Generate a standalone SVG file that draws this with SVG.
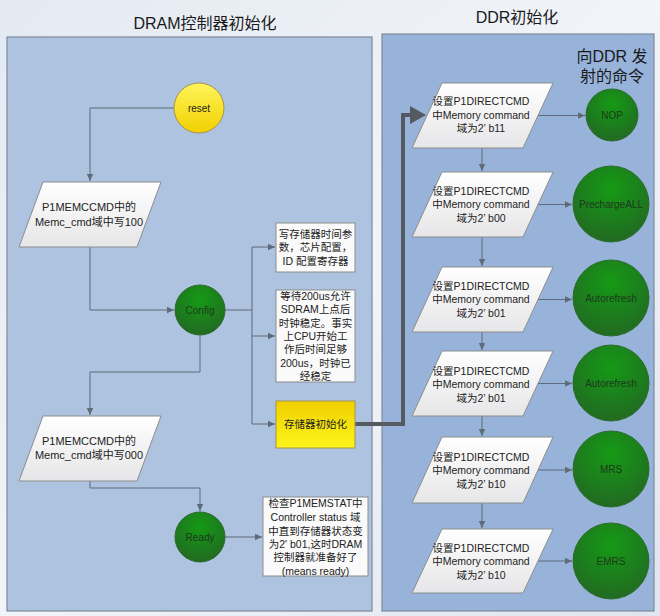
<svg xmlns="http://www.w3.org/2000/svg" width="660" height="616" viewBox="0 0 660 616">
<defs>
<linearGradient id="bg" x1="0" y1="0" x2="1" y2="1"><stop offset="0" stop-color="#e4eaf2"/><stop offset="0.5" stop-color="#f1f4f8"/><stop offset="1" stop-color="#dfe6ef"/></linearGradient>
<radialGradient id="green" cx="0.5" cy="0.3" r="0.7"><stop offset="0" stop-color="#159a15"/><stop offset="1" stop-color="#226a22"/></radialGradient>
<linearGradient id="yellowC" x1="0" y1="0" x2="0" y2="1"><stop offset="0" stop-color="#fff45a"/><stop offset="1" stop-color="#f2d000"/></linearGradient>
<linearGradient id="yellowB" x1="0" y1="0" x2="0" y2="1"><stop offset="0" stop-color="#f0d000"/><stop offset="1" stop-color="#fcf41a"/></linearGradient>
<linearGradient id="para" x1="0" y1="0" x2="0" y2="1"><stop offset="0" stop-color="#ffffff"/><stop offset="1" stop-color="#e6e6e8"/></linearGradient>
<marker id="arr" markerWidth="8" markerHeight="8" refX="7" refY="4" orient="auto" markerUnits="userSpaceOnUse"><path d="M0,0.8 L7,4 L0,7.2 Z" fill="#5f6b78"/></marker>
</defs>
<style>
.t{font-family:"Liberation Sans","Noto Sans CJK SC",sans-serif;fill:#222;text-anchor:middle}
.s12{font-size:11px}
.sp{font-size:10.5px}
.s11{font-size:10.5px}
.sc{font-size:10px}
.title{font-size:16px;fill:#1a1a1a}
.panelL{fill:#adc3e0;stroke:#7d8a9c;stroke-width:1.2}
.panelR{fill:#97b3da;stroke:#7d8a9c;stroke-width:1.2}
.pg{fill:url(#para);stroke:#8d8d8d;stroke-width:1}
.box{fill:#fafafa;stroke:#8d8d8d;stroke-width:1}
.gc{fill:url(#green);stroke:#2d6b2d;stroke-width:1}
.gt{fill:#1c3a1c}
.ln{fill:none;stroke:#5f6b78;stroke-width:1}
</style>
<rect x="0" y="0" width="660" height="616" fill="url(#bg)"/>
<g id="panel-left">
<rect class="panelL" x="7" y="37" width="365" height="574"/>
<text class="t title" x="205" y="29">DRAM控制器初始化</text>
</g>
<g id="panel-right">
<rect class="panelR" x="382" y="34" width="272" height="577"/>
<text class="t title" x="517" y="23">DDR初始化</text>
<text class="t title" x="612" y="62">向DDR 发</text>
<text class="t title" x="612" y="82">射的命令</text>
</g>
<g id="connectors">
<path class="ln" d="M174,108 H90 V181" marker-end="url(#arr)"/>
<path class="ln" d="M90,247 V310 H174" marker-end="url(#arr)"/>
<path class="ln" d="M225,310 H252"/>
<path class="ln" d="M252,247 V424"/>
<path class="ln" d="M252,247 H275" marker-end="url(#arr)"/>
<path class="ln" d="M252,336 H275" marker-end="url(#arr)"/>
<path class="ln" d="M252,424 H275" marker-end="url(#arr)"/>
<path class="ln" d="M200,335 V372 H90 V415" marker-end="url(#arr)"/>
<path class="ln" d="M90,481 V488 H200 V511" marker-end="url(#arr)"/>
<path class="ln" d="M225,537 H262" marker-end="url(#arr)"/>
<path d="M355,424 H403 V115 H412" fill="none" stroke="#555a60" stroke-width="4"/>
<polygon points="410,106 426,115 410,124" fill="#555a60"/>
<path class="ln" d="M538,115.5 H585" marker-end="url(#arr)"/>
<path class="ln" d="M538,204.5 H572" marker-end="url(#arr)"/>
<path class="ln" d="M538,299.5 H572" marker-end="url(#arr)"/>
<path class="ln" d="M538,383.5 H572" marker-end="url(#arr)"/>
<path class="ln" d="M538,470 H572" marker-end="url(#arr)"/>
<path class="ln" d="M538,561 H572" marker-end="url(#arr)"/>
<path class="ln" d="M482,148 V171" marker-end="url(#arr)"/>
<path class="ln" d="M482,237 V266" marker-end="url(#arr)"/>
<path class="ln" d="M482,332 V350" marker-end="url(#arr)"/>
<path class="ln" d="M482,416 V436" marker-end="url(#arr)"/>
<path class="ln" d="M482,503 V528" marker-end="url(#arr)"/>
</g>
<g id="reset">
<circle cx="199" cy="108" r="25" fill="url(#yellowC)" stroke="#a8944a" stroke-width="1"/>
<text class="t sc" x="199" y="112">reset</text>
</g>
<g id="write100">
<polygon class="pg" points="43,182 161,182 137,247 19,247"/>
<text class="t s12" x="89" y="211">P1MEMCCMD中的</text>
<text class="t s12" x="89" y="226">Memc_cmd域中写100</text>
</g>
<g id="config">
<circle class="gc" cx="200" cy="310" r="25"/>
<text class="t sc gt" x="200" y="314">Config</text>
</g>
<g id="timing">
<rect class="box" x="276" y="223" width="79" height="49"/>
<text class="t s11" x="315.5" y="238">写存储器时间参</text>
<text class="t s11" x="315.5" y="251">数，芯片配置，</text>
<text class="t s11" x="315.5" y="265">ID 配置寄存器</text>
</g>
<g id="wait200">
<rect class="box" x="276" y="290" width="79" height="92"/>
<text class="t s11" x="315.5" y="300">等待200us允许</text>
<text class="t s11" x="315.5" y="313">SDRAM上点后</text>
<text class="t s11" x="315.5" y="327">时钟稳定。事实</text>
<text class="t s11" x="315.5" y="340">上CPU开始工</text>
<text class="t s11" x="315.5" y="353">作后时间足够</text>
<text class="t s11" x="315.5" y="367">200us，时钟已</text>
<text class="t s11" x="315.5" y="380">经稳定</text>
</g>
<g id="meminit">
<rect x="276" y="401" width="79" height="47" fill="url(#yellowB)" stroke="#a8944a" stroke-width="1"/>
<text class="t s11" x="315.5" y="428">存储器初始化</text>
</g>
<g id="write000">
<polygon class="pg" points="43,416 161,416 137,481 19,481"/>
<text class="t s12" x="89" y="445">P1MEMCCMD中的</text>
<text class="t s12" x="89" y="459">Memc_cmd域中写000</text>
</g>
<g id="ready">
<circle class="gc" cx="200" cy="537" r="25"/>
<text class="t sc gt" x="200" y="541">Ready</text>
</g>
<g id="checkstat">
<rect class="box" x="263" y="497" width="105" height="79"/>
<text class="t s11" x="315.5" y="507">检查P1MEMSTAT中</text>
<text class="t s11" x="315.5" y="521">Controller status 域</text>
<text class="t s11" x="315.5" y="535">中直到存储器状态变</text>
<text class="t s11" x="315.5" y="548">为2' b01,这时DRAM</text>
<text class="t s11" x="315.5" y="561">控制器就准备好了</text>
<text class="t s11" x="315.5" y="575">(means ready)</text>
</g>
<g id="cmd-b11">
<polygon class="pg" points="442,83 553,83 523,148 412,148"/>
<text class="t sp" x="481" y="105">设置P1DIRECTCMD</text>
<text class="t sp" x="481" y="119">中Memory command</text>
<text class="t sp" x="481" y="132">域为2’ b11</text>
</g>
<g id="nop">
<circle class="gc" cx="612" cy="115" r="26"/>
<text class="t sc gt" x="612" y="119">NOP</text>
</g>
<g id="cmd-b00">
<polygon class="pg" points="442,172 553,172 523,237 412,237"/>
<text class="t sp" x="481" y="195">设置P1DIRECTCMD</text>
<text class="t sp" x="481" y="208">中Memory command</text>
<text class="t sp" x="481" y="222">域为2’ b00</text>
</g>
<g id="precharge">
<circle class="gc" cx="611" cy="204" r="38"/>
<text class="t sc gt" x="611" y="208">PrechargeALL</text>
</g>
<g id="cmd-b01a">
<polygon class="pg" points="442,267 553,267 523,332 412,332"/>
<text class="t sp" x="481" y="290">设置P1DIRECTCMD</text>
<text class="t sp" x="481" y="303">中Memory command</text>
<text class="t sp" x="481" y="317">域为2’ b01</text>
</g>
<g id="autorefresh1">
<circle class="gc" cx="611" cy="298" r="38"/>
<text class="t sc gt" x="611" y="302">Autorefresh</text>
</g>
<g id="cmd-b01b">
<polygon class="pg" points="442,351 553,351 523,416 412,416"/>
<text class="t sp" x="481" y="375">设置P1DIRECTCMD</text>
<text class="t sp" x="481" y="388">中Memory command</text>
<text class="t sp" x="481" y="402">域为2’ b01</text>
</g>
<g id="autorefresh2">
<circle class="gc" cx="611" cy="383" r="38"/>
<text class="t sc gt" x="611" y="387">Autorefresh</text>
</g>
<g id="cmd-b10a">
<polygon class="pg" points="442,437 553,437 523,503 412,503"/>
<text class="t sp" x="481" y="461">设置P1DIRECTCMD</text>
<text class="t sp" x="481" y="474">中Memory command</text>
<text class="t sp" x="481" y="488">域为2’ b10</text>
</g>
<g id="mrs">
<circle class="gc" cx="611" cy="469" r="38"/>
<text class="t sc gt" x="611" y="473">MRS</text>
</g>
<g id="cmd-b10b">
<polygon class="pg" points="442,529 553,529 523,593 412,593"/>
<text class="t sp" x="481" y="552">设置P1DIRECTCMD</text>
<text class="t sp" x="481" y="565">中Memory command</text>
<text class="t sp" x="481" y="579">域为2’ b10</text>
</g>
<g id="emrs">
<circle class="gc" cx="611" cy="561" r="38"/>
<text class="t sc gt" x="611" y="565">EMRS</text>
</g>
</svg>
